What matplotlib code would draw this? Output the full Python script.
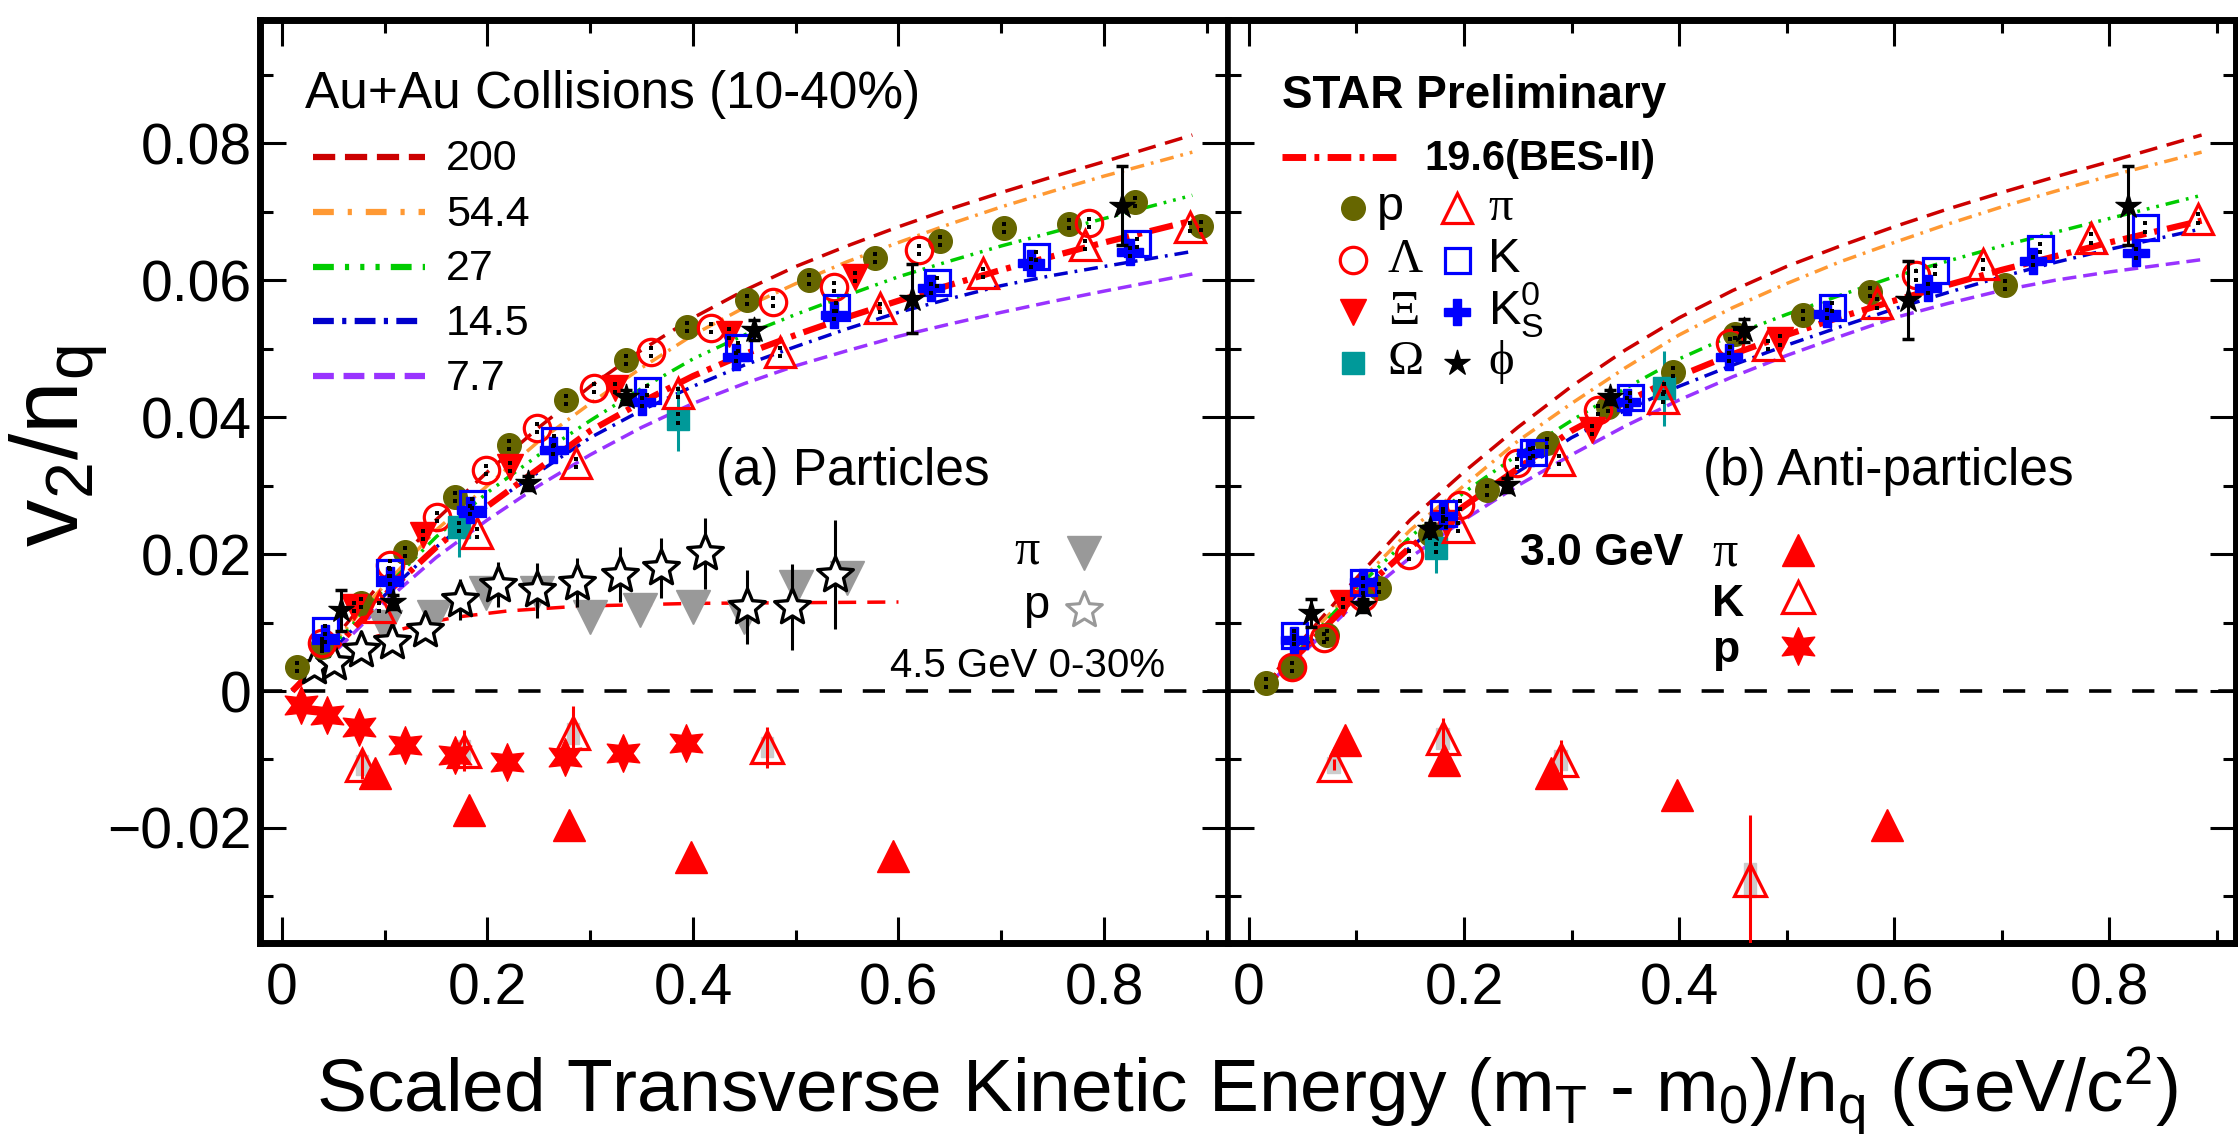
import numpy as np
import matplotlib
matplotlib.use('Agg')
import matplotlib.pyplot as plt
from matplotlib.lines import Line2D
from matplotlib.patches import Rectangle
from matplotlib.path import Path
from matplotlib.ticker import MultipleLocator

plt.rcParams['font.family'] = ['Liberation Sans', 'DejaVu Sans']
plt.rcParams['mathtext.fontset'] = 'custom'
plt.rcParams['mathtext.rm'] = 'Liberation Sans'
plt.rcParams['mathtext.it'] = 'Liberation Sans:italic'
plt.rcParams['mathtext.bf'] = 'Liberation Sans:bold'
plt.rcParams['lines.scale_dashes'] = False

# ---------------- fit curves ----------------
fit_x = [0.01, 0.05, 0.1, 0.15, 0.2, 0.25, 0.3, 0.35, 0.4, 0.45, 0.5, 0.55, 0.6, 0.65, 0.7, 0.75, 0.8, 0.886]
fit_200 = [0.0, 0.0075, 0.0165, 0.025, 0.032, 0.0385, 0.0445, 0.0498, 0.0545, 0.0585, 0.062, 0.065, 0.0678, 0.0704, 0.0728, 0.0751, 0.0773, 0.0812]
fit_544 = [0.0, 0.007, 0.0155, 0.0235, 0.030, 0.0365, 0.042, 0.0472, 0.052, 0.056, 0.0595, 0.0627, 0.0655, 0.0682, 0.0707, 0.073, 0.0752, 0.0787]
fit_27 = [0.0, 0.0065, 0.015, 0.0225, 0.029, 0.0345, 0.0395, 0.0442, 0.0485, 0.052, 0.055, 0.0578, 0.0605, 0.0628, 0.065, 0.067, 0.069, 0.0724]
fit_196 = [0.0, 0.006, 0.014, 0.021, 0.027, 0.0325, 0.038, 0.0422, 0.046, 0.0492, 0.052, 0.0546, 0.057, 0.0593, 0.0615, 0.0635, 0.0655, 0.0687]
fit_145_a = [0.0, 0.006, 0.014, 0.021, 0.027, 0.032, 0.037, 0.041, 0.0445, 0.0476, 0.0503, 0.0529, 0.0553, 0.0573, 0.0592, 0.0607, 0.062, 0.0642]
fit_77_a = [0.0, 0.0055, 0.013, 0.0195, 0.025, 0.030, 0.0345, 0.0385, 0.042, 0.0449, 0.0475, 0.0497, 0.0518, 0.0536, 0.0553, 0.0569, 0.0584, 0.0609]
fit_145_b = [0.0, 0.006, 0.014, 0.021, 0.027, 0.032, 0.037, 0.041, 0.0445, 0.0476, 0.0505, 0.0532, 0.0558, 0.0582, 0.0605, 0.0626, 0.0645, 0.0675]
fit_77_b = [0.0, 0.0055, 0.013, 0.0195, 0.025, 0.030, 0.0345, 0.0387, 0.0425, 0.0459, 0.049, 0.0518, 0.0545, 0.0566, 0.0585, 0.06, 0.0612, 0.063]

fit45_x = [0.09, 0.13, 0.17, 0.22, 0.29, 0.4, 0.5, 0.6]
fit45_v = [0.0079, 0.0096, 0.0108, 0.0117, 0.0124, 0.0128, 0.0129, 0.013]

energies = ['200', '54.4', '27', '14.5', '7.7']

# ---------------- 19.6 GeV particles (a) ----------------
a_p_x = [0.015, 0.039, 0.077, 0.12, 0.168, 0.221, 0.276, 0.335, 0.394, 0.453, 0.513, 0.577, 0.640, 0.703, 0.766, 0.830, 0.894]
a_p_v = [0.0035, 0.0064, 0.0128, 0.0203, 0.0283, 0.0359, 0.0425, 0.0483, 0.0532, 0.0571, 0.0601, 0.0632, 0.0657, 0.0676, 0.0682, 0.0714, 0.0679]
a_lam_x = [0.039, 0.105, 0.151, 0.199, 0.248, 0.304, 0.359, 0.418, 0.478, 0.537, 0.62, 0.785]
a_lam_v = [0.0070, 0.0184, 0.0254, 0.0323, 0.0384, 0.0442, 0.0495, 0.053, 0.0568, 0.059, 0.0644, 0.0683]
a_xi_x = [0.070, 0.137, 0.222, 0.324, 0.435, 0.558]
a_xi_v = [0.0123, 0.0228, 0.0327, 0.0442, 0.0522, 0.0605]
a_om_x = [0.172, 0.385]
a_om_v = [0.024, 0.0398]
a_om_e = [0.0044, 0.0047]
a_pi_x = [0.094, 0.190, 0.286, 0.385, 0.485, 0.582, 0.682, 0.782, 0.884]
a_pi_v = [0.0123, 0.0231, 0.0333, 0.0435, 0.0495, 0.0559, 0.061, 0.0651, 0.0678]
a_k_x = [0.042, 0.104, 0.185, 0.265, 0.355, 0.444, 0.539, 0.637, 0.734, 0.832]
a_k_v = [0.0089, 0.0174, 0.0274, 0.0366, 0.0439, 0.0502, 0.0561, 0.0597, 0.0635, 0.0654]
a_ks_x = [0.042, 0.105, 0.183, 0.264, 0.350, 0.442, 0.537, 0.632, 0.729, 0.825]
a_ks_v = [0.0077, 0.0162, 0.0264, 0.0352, 0.0422, 0.0488, 0.0549, 0.0588, 0.0625, 0.0641]
a_phi_x = [0.057, 0.108, 0.239, 0.335, 0.459, 0.613, 0.818]
a_phi_v = [0.0118, 0.013, 0.0304, 0.0429, 0.0527, 0.0573, 0.0709]
a_phi_e = [0.003, 0.001, 0.001, 0.001, 0.0015, 0.005, 0.0058]

# ---------------- 4.5 GeV 0-30% (a) ----------------
g45_pi_x = [0.1, 0.148, 0.199, 0.248, 0.3, 0.348, 0.4, 0.45, 0.5, 0.55]
g45_pi_v = [0.0094, 0.0108, 0.0143, 0.0143, 0.0108, 0.0118, 0.0123, 0.0108, 0.0152, 0.0165]
g45_p_x = [0.031, 0.051, 0.077, 0.107, 0.139, 0.173, 0.210, 0.248, 0.287, 0.329, 0.369, 0.412, 0.453, 0.496, 0.538]
g45_p_v = [0.0035, 0.0041, 0.006, 0.0072, 0.0089, 0.0133, 0.0155, 0.0147, 0.0158, 0.017, 0.018, 0.0201, 0.0123, 0.0123, 0.017]
g45_p_e = [0.0015, 0.0015, 0.0015, 0.0015, 0.0015, 0.003, 0.0033, 0.004, 0.0036, 0.004, 0.0044, 0.0052, 0.0054, 0.0063, 0.008]

# ---------------- 3.0 GeV (a) ----------------
a30_pi_x = [0.091, 0.182, 0.279, 0.398, 0.595]
a30_pi_v = [-0.012, -0.0174, -0.0196, -0.0242, -0.0241]
a30_k_x = [0.078, 0.177, 0.283, 0.472]
a30_k_v = [-0.0108, -0.0087, -0.0062, -0.0082]
a30_k_e = [0.002, 0.003, 0.004, 0.003]
a30_p_x = [0.0185, 0.044, 0.075, 0.12, 0.168, 0.219, 0.275, 0.332, 0.393]
a30_p_v = [-0.002, -0.0035, -0.0052, -0.0079, -0.0093, -0.0103, -0.0096, -0.0091, -0.0076]
a30_p_e = [0.0015, 0.0015, 0.0015, 0.0015, 0.002, 0.002, 0.002, 0.002, 0.002]

# ---------------- 19.6 GeV anti-particles (b) ----------------
b_p_x = [0.016, 0.040, 0.073, 0.121, 0.168, 0.221, 0.277, 0.334, 0.394, 0.452, 0.515, 0.578, 0.703]
b_p_v = [0.0012, 0.0035, 0.0082, 0.015, 0.023, 0.0293, 0.0362, 0.0415, 0.0466, 0.0522, 0.0549, 0.0583, 0.0593]
b_lam_x = [0.040, 0.070, 0.106, 0.149, 0.196, 0.249, 0.325, 0.447, 0.620]
b_lam_v = [0.0035, 0.0078, 0.0137, 0.0199, 0.0272, 0.0333, 0.041, 0.0508, 0.0607]
b_xi_x = [0.087, 0.183, 0.319, 0.494]
b_xi_v = [0.0128, 0.0245, 0.0381, 0.0512]
b_om_x = [0.174, 0.386]
b_om_v = [0.0209, 0.0442]
b_om_e = [0.0036, 0.0055]
b_pi_x = [0.194, 0.288, 0.385, 0.483, 0.584, 0.683, 0.783, 0.883]
b_pi_v = [0.024, 0.0337, 0.0428, 0.0505, 0.0566, 0.0623, 0.0661, 0.069]
b_k_x = [0.042, 0.106, 0.18, 0.264, 0.354, 0.542, 0.638, 0.736, 0.833]
b_k_v = [0.0082, 0.0159, 0.026, 0.0349, 0.0429, 0.0561, 0.0615, 0.0647, 0.0677]
b_ks_x = [0.042, 0.106, 0.18, 0.261, 0.352, 0.446, 0.538, 0.632, 0.729, 0.825]
b_ks_v = [0.0075, 0.0159, 0.0255, 0.0347, 0.0422, 0.0488, 0.0551, 0.0588, 0.0628, 0.0639]
b_phi_x = [0.058, 0.106, 0.168, 0.24, 0.336, 0.46, 0.613, 0.818]
b_phi_v = [0.0114, 0.0125, 0.0236, 0.0301, 0.0429, 0.0527, 0.0571, 0.0709]
b_phi_e = [0.002, 0.001, 0.001, 0.001, 0.001, 0.0017, 0.0057, 0.0058]

# ---------------- 3.0 GeV (b) ----------------
b30_pi_x = [0.089, 0.181, 0.281, 0.398, 0.593]
b30_pi_v = [-0.0072, -0.0101, -0.012, -0.0152, -0.0196]
b30_k_x = [0.079, 0.18, 0.29, 0.466]
b30_k_v = [-0.0108, -0.0069, -0.0101, -0.0276]
b30_k_e = [0.0008, 0.003, 0.003, 0.0095]
b30_k_s = [0.0012, 0.0015, 0.0015, 0.0025]

# ---------------- figure ----------------
W, H = 2238, 1136
fig = plt.figure(figsize=(W / 100, H / 100), dpi=100)


def FX(px):
    return px / W


def FY(py):
    return 1 - py / H


axL = fig.add_axes([FX(260), FY(943), 968 / W, 923 / H])
axR = fig.add_axes([FX(1228), FY(943), 1008 / W, 923 / H])

OLIVE = '#666600'
TEAL = '#009999'
RED = '#ff0000'
BLUE = '#0000ff'
GRAY = '#999999'
fit_colors = ['#cc0000', '#ff9933', '#00cc00', '#0000cc', '#9933ff']
fit_dash = [(13, 7), (10, 5, 2, 5), (10, 5, 2, 5, 2, 5, 2, 5), (10, 5, 2, 5), (10, 5)]
leg_dash = [(16, 7), (15, 10, 3, 10), (15, 8, 3, 8, 3, 8, 3, 8), (15, 6, 3, 6), (15, 7)]
RED_DASH = (17, 6, 3.5, 6)

star5 = Path.unit_regular_star(5, 0.36)
star5o = Path.unit_regular_star(5, 0.45)
star6 = Path.unit_regular_star(6, 0.5)

ms_p = dict(marker='o', ms=17, mfc=OLIVE, mec=OLIVE, ls='none')
ms_lam = dict(marker='o', ms=19, mfc='none', mec=RED, mew=2.3, ls='none')
ms_xi = dict(marker='v', ms=19, mfc=RED, mec=RED, ls='none')
ms_om = dict(marker='s', ms=16, mfc=TEAL, mec=TEAL, ls='none')
ms_pi = dict(marker='^', ms=21, mfc='none', mec=RED, mew=2.3, ls='none')
ms_k = dict(marker='s', ms=18, mfc='none', mec=BLUE, mew=2.3, ls='none')
ms_ks = dict(marker='P', ms=19, mfc=BLUE, mec=BLUE, ls='none')
ms_phi = dict(marker=star5, ms=19, mfc='k', mec='k', ls='none')


def syst_marks(ax, xs, vs):
    xs = np.asarray(xs)
    vs = np.asarray(vs)
    for d in (-0.0006, 0.0006):
        ax.plot(xs, vs + d, 's', ms=3.4, color='k', mew=0, zorder=6)


def draw_bes(ax, p, lam, xi, om, pi, k, ks, phi):
    ax.errorbar(om[0], om[1], yerr=om[2], fmt='none', ecolor=TEAL, elinewidth=2.2, zorder=4)
    ax.plot(p[0], p[1], zorder=5, **ms_p)
    ax.plot(lam[0], lam[1], zorder=5, **ms_lam)
    ax.plot(xi[0], xi[1], zorder=5, **ms_xi)
    ax.plot(om[0], om[1], zorder=5, **ms_om)
    ax.plot(pi[0], pi[1], zorder=5, **ms_pi)
    ax.plot(k[0], k[1], zorder=5, **ms_k)
    ax.plot(ks[0], ks[1], zorder=5, **ms_ks)
    ax.errorbar(phi[0], phi[1], yerr=phi[2], fmt='none', ecolor='k', elinewidth=2.2,
                capsize=4, capthick=2.5, zorder=5)
    ax.plot(phi[0], phi[1], zorder=6, **ms_phi)
    for s in (p, lam, xi, om, pi, k, ks):
        syst_marks(ax, s[0], s[1])


def draw_fits(ax, f145, f77):
    fits = [fit_200, fit_544, fit_27, f145, f77]
    for vals, c, d in zip(fits, fit_colors, fit_dash):
        ax.plot(fit_x, vals, color=c, lw=2.5, dashes=d, zorder=3)
    ax.plot(fit_x, fit_196, color=RED, lw=4.5, dashes=RED_DASH, zorder=4)


for ax in (axL, axR):
    ax.axhline(0, color='k', lw=2.6, dashes=(16, 15), zorder=2)

draw_fits(axL, fit_145_a, fit_77_a)
draw_fits(axR, fit_145_b, fit_77_b)

# 4.5 GeV
axL.plot(fit45_x, fit45_v, color=RED, lw=2.5, dashes=(13, 8), zorder=3)
axL.errorbar(g45_pi_x, g45_pi_v, yerr=0.001, fmt='none', ecolor=GRAY, elinewidth=2, zorder=3)
axL.plot(g45_pi_x, g45_pi_v, 'v', ms=24, mfc=GRAY, mec=GRAY, zorder=3)
axL.errorbar(g45_p_x, g45_p_v, yerr=g45_p_e, fmt='none', ecolor='k', elinewidth=2.2, zorder=4)
axL.plot(g45_p_x, g45_p_v, marker=star5o, ms=27, mfc='white', mec='k', mew=2.4, ls='none', zorder=4)

draw_bes(axL, (a_p_x, a_p_v), (a_lam_x, a_lam_v), (a_xi_x, a_xi_v), (a_om_x, a_om_v, a_om_e),
         (a_pi_x, a_pi_v), (a_k_x, a_k_v), (a_ks_x, a_ks_v), (a_phi_x, a_phi_v, a_phi_e))
draw_bes(axR, (b_p_x, b_p_v), (b_lam_x, b_lam_v), (b_xi_x, b_xi_v), (b_om_x, b_om_v, b_om_e),
         (b_pi_x, b_pi_v), (b_k_x, b_k_v), (b_ks_x, b_ks_v), (b_phi_x, b_phi_v, b_phi_e))

# 3.0 GeV (a)
axL.errorbar(a30_p_x, a30_p_v, yerr=a30_p_e, fmt='none', ecolor=RED, elinewidth=2.2, zorder=5)
axL.plot(a30_p_x, a30_p_v, marker=star6, ms=27, mfc=RED, mec=RED, ls='none', zorder=5)
axL.plot(a30_pi_x, a30_pi_v, '^', ms=23, mfc=RED, mec=RED, zorder=5)
for x, v in zip(a30_k_x, a30_k_v):
    axL.add_patch(Rectangle((x - 0.006, v - 0.0015), 0.012, 0.003, color='#cccccc', zorder=4))
axL.errorbar(a30_k_x, a30_k_v, yerr=a30_k_e, fmt='none', ecolor=RED, elinewidth=2.2, zorder=5)
axL.plot(a30_k_x, a30_k_v, '^', ms=23, mfc='none', mec=RED, mew=2.3, zorder=5)

# 3.0 GeV (b)
axR.plot(b30_pi_x, b30_pi_v, '^', ms=23, mfc=RED, mec=RED, zorder=5)
for x, v, s in zip(b30_k_x, b30_k_v, b30_k_s):
    axR.add_patch(Rectangle((x - 0.006, v - s), 0.012, 2 * s, color='#cccccc', zorder=4))
axR.errorbar(b30_k_x, b30_k_v, yerr=b30_k_e, fmt='none', ecolor=RED, elinewidth=2.2, zorder=5)
axR.plot(b30_k_x, b30_k_v, '^', ms=23, mfc='none', mec=RED, mew=2.3, zorder=5)

# ---------------- axes formatting ----------------
xt = [0, 0.2, 0.4, 0.6, 0.8]
yt = [-0.02, 0, 0.02, 0.04, 0.06, 0.08]
ylab = ['\u22120.02', '0', '0.02', '0.04', '0.06', '0.08']
axL.set_xlim(-0.0214, 0.9207)
axR.set_xlim(-0.0195, 0.918)
for ax in (axL, axR):
    ax.set_ylim(-0.0368, 0.0980)
    ax.set_xticks(xt)
    ax.set_xticklabels(['0', '0.2', '0.4', '0.6', '0.8'])
    ax.set_yticks(yt)
    ax.xaxis.set_minor_locator(MultipleLocator(0.1))
    ax.yaxis.set_minor_locator(MultipleLocator(0.01))
    ax.tick_params(which='both', direction='in', top=True, right=True, width=2.2)
    ax.tick_params(which='major', length=19)
    ax.tick_params(which='minor', length=9.5)
    ax.tick_params(axis='x', labelsize=41, pad=14)
    ax.tick_params(axis='y', labelsize=41, pad=6)
    for s in ax.spines.values():
        s.set_linewidth(5)
axL.set_yticklabels(ylab)
axR.set_yticklabels([])
axL.spines['right'].set_linewidth(4)
axR.spines['left'].set_linewidth(4)

# ---------------- texts / legends ----------------
SERIF = ['Liberation Serif', 'DejaVu Serif']

fig.text(0.557, FY(1113), r'Scaled Transverse Kinetic Energy (m$_\mathrm{T}$ - m$_\mathrm{0}$)/n$_\mathrm{q}$ (GeV/c$^\mathrm{2}$)',
         fontsize=54, ha='center', va='baseline')
fig.text(FX(58), FY(446), r'v$_\mathrm{2}$/n$_\mathrm{q}$', fontsize=68, rotation=90, ha='center', va='center')

fig.text(FX(305), FY(108), 'Au+Au Collisions (10-40%)', fontsize=37, va='baseline')
leg_y = [157, 212, 267, 321, 376]
leg_base = [170, 226, 280, 335, 390]
for lab, c, d, yl, yb in zip(energies, fit_colors, leg_dash, leg_y, leg_base):
    fig.add_artist(Line2D([FX(313), FX(425)], [FY(yl), FY(yl)], color=c, lw=4.5, dashes=d,
                          transform=fig.transFigure))
    fig.text(FX(446), FY(yb), lab, fontsize=31, va='baseline')

fig.text(FX(716), FY(485), '(a) Particles', fontsize=37, va='baseline')
fig.text(FX(1703), FY(485), '(b) Anti-particles', fontsize=37, va='baseline')

# 4.5 GeV legend
fig.text(FX(1014), FY(563), '\u03c0', fontsize=36, family=SERIF, va='baseline')
fig.add_artist(Line2D([FX(1084)], [FY(553)], marker='v', ms=24, mfc=GRAY, mec=GRAY, ls='none',
                      transform=fig.transFigure))
fig.text(FX(1023), FY(618), 'p', fontsize=34, va='baseline')
fig.add_artist(Line2D([FX(1084)], [FY(610)], marker=star5o, ms=27, mfc='white', mec=GRAY, mew=2.2,
                      ls='none', transform=fig.transFigure))
fig.text(FX(890), FY(677), '4.5 GeV 0-30%', fontsize=29, va='baseline')

# STAR legend (b)
fig.text(FX(1282), FY(108), 'STAR Preliminary', fontsize=33, fontweight='bold', va='baseline')
fig.add_artist(Line2D([FX(1282), FX(1396)], [FY(157), FY(157)], color=RED, lw=5, dashes=RED_DASH,
                      transform=fig.transFigure))
fig.text(FX(1424), FY(170), '19.6(BES-II)', fontsize=30, fontweight='bold', va='baseline')

c1, c2 = 1353, 1457
rows = [208, 260, 312, 363]
bases = [220, 272, 324, 374]
leg_items = [
    (c1, rows[0], ms_p, 1377, bases[0], 'p', None),
    (c2, rows[0], ms_pi, 1488, bases[0], '\u03c0', SERIF),
    (c1, rows[1], ms_lam, 1387, bases[1], '\u039b', SERIF),
    (c2, rows[1], ms_k, 1488, bases[1], 'K', None),
    (c1, rows[2], ms_xi, 1388, bases[2], '\u039e', SERIF),
    (c2, rows[2], ms_ks, 1488, bases[2], r'K$^\mathrm{0}_\mathrm{S}$', None),
    (c1, rows[3], ms_om, 1388, bases[3], '\u03a9', SERIF),
    (c2, rows[3], ms_phi, 1488, bases[3], '\u03d5', SERIF),
]
for mx, my, st, tx, tb, txt, fam in leg_items:
    fig.add_artist(Line2D([FX(mx)], [FY(my)], transform=fig.transFigure, **st))
    if fam:
        fig.text(FX(tx), FY(tb), txt, fontsize=35, family=fam, va='baseline')
    else:
        fig.text(FX(tx), FY(tb), txt, fontsize=35, va='baseline')

# 3.0 GeV legend (b)
fig.text(FX(1520), FY(565), '3.0 GeV', fontsize=32, fontweight='bold', va='baseline')
fig.text(FX(1712), FY(565), '\u03c0', fontsize=36, family=SERIF, va='baseline')
fig.text(FX(1712), FY(616), 'K', fontsize=32, fontweight='bold', va='baseline')
fig.text(FX(1712), FY(662), 'p', fontsize=32, fontweight='bold', va='baseline')
fig.add_artist(Line2D([FX(1798)], [FY(550)], marker='^', ms=23, mfc=RED, mec=RED, ls='none',
                      transform=fig.transFigure))
fig.add_artist(Line2D([FX(1798)], [FY(597)], marker='^', ms=23, mfc='none', mec=RED, mew=2.3, ls='none',
                      transform=fig.transFigure))
fig.add_artist(Line2D([FX(1798)], [FY(646)], marker=star6, ms=27, mfc=RED, mec=RED, ls='none',
                      transform=fig.transFigure))

fig.savefig('out.png', dpi=100)
